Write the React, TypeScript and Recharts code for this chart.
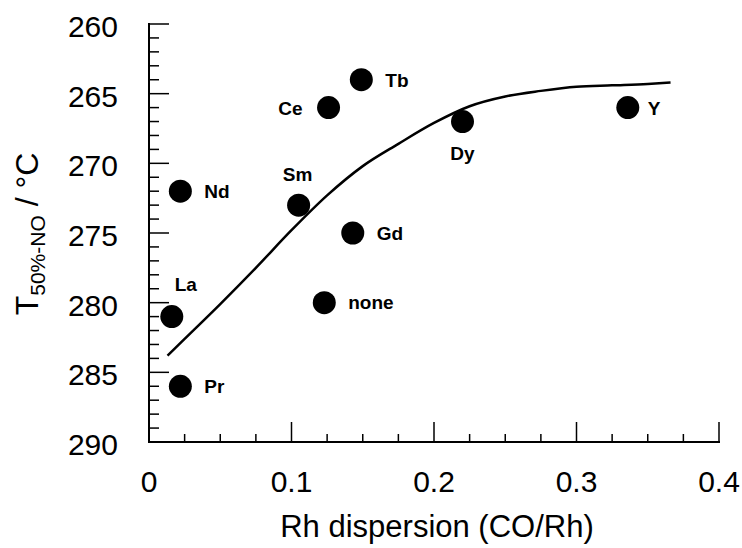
import { ComposedChart, Line, Scatter, XAxis, YAxis } from 'recharts'

// measured samples: promoter element, Rh dispersion, T50%-NO
const SAMPLES = ['La', 'Pr', 'Nd', 'Sm', 'none', 'Ce', 'Gd', 'Tb', 'Dy', 'Y']
const DISPERSION = [0.016, 0.022, 0.022, 0.105, 0.123, 0.126, 0.143, 0.149, 0.22, 0.336]
const T50 = [281, 286, 272, 273, 280, 266, 275, 264, 267, 266]

// fitted trend curve
const FIT_X = [0.013, 0.025, 0.05, 0.075, 0.1, 0.125, 0.15, 0.175, 0.2, 0.225, 0.25, 0.275, 0.3, 0.325, 0.35, 0.366]
const FIT_T = [283.8, 282.6, 280.1, 277.5, 274.8, 272.3, 270.2, 268.6, 267.1, 265.9, 265.2, 264.8, 264.5, 264.4, 264.3, 264.2]

const X_TICKS = [0, 0.025, 0.05, 0.075, 0.1, 0.125, 0.15, 0.175, 0.2, 0.225, 0.25, 0.275, 0.3, 0.325, 0.35, 0.375, 0.4]
const X_LABELS = ['0', '0.1', '0.2', '0.3', '0.4']
const Y_TICKS = [
  260, 261, 262, 263, 264, 265, 266, 267, 268, 269, 270, 271, 272, 273, 274, 275,
  276, 277, 278, 279, 280, 281, 282, 283, 284, 285, 286, 287, 288, 289, 290,
]
const Y_LABELS = [260, 265, 270, 275, 280, 285, 290]

// where each sample name sits relative to its dot
const LABEL_SIDE: Record<string, string> = {
  La: 'upright', Pr: 'right', Nd: 'right', Sm: 'above', none: 'right',
  Ce: 'left', Gd: 'right', Tb: 'right', Dy: 'below', Y: 'right',
}

const FONT = '"Liberation Sans", Arial, sans-serif'
const AXIS_LINE = { stroke: '#000', strokeWidth: 2, strokeLinecap: 'square' as const }

const points = DISPERSION.map((x, i) => ({ x, t: T50[i], name: SAMPLES[i] }))
const fit = FIT_X.map((x, i) => ({ x, t: FIT_T[i] }))

const fmtX = (v: number) => (v === 0 ? '0' : v.toFixed(1))

const XTick = (props: any) => {
  const { x, y, payload } = props
  const label = fmtX(payload.value)
  const major = X_LABELS.includes(label) && Math.abs(payload.value * 10 - Math.round(payload.value * 10)) < 1e-6
  return (
    <g>
      <line x1={x} x2={x} y1={y} y2={y - (major ? 20 : 8)} stroke="#000" strokeWidth={1.5} />
      {major && (
        <text x={x} y={y + 50} textAnchor="middle" fontSize={30} fontFamily={FONT} fill="#000">
          {label}
        </text>
      )}
    </g>
  )
}

const YTick = (props: any) => {
  const { x, y, payload } = props
  const major = Y_LABELS.includes(payload.value)
  return (
    <g>
      <line x1={x} x2={x + (major ? 20 : 10)} y1={y} y2={y} stroke="#000" strokeWidth={1.5} />
      {major && (
        <text x={x - 31} y={y + 13} textAnchor="end" fontSize={30} fontFamily={FONT} fill="#000">
          {payload.value}
        </text>
      )}
    </g>
  )
}

const Dot = (props: any) => {
  const { cx, cy, payload } = props
  const side = LABEL_SIDE[payload.name]
  let tx = cx + 24
  let ty = cy + 7
  let anchor: 'start' | 'middle' | 'end' = 'start'
  if (side === 'left') { tx = cx - 26; anchor = 'end' }
  if (side === 'above') { tx = cx - 1; ty = cy - 24; anchor = 'middle' }
  if (side === 'upright') { tx = cx + 14; ty = cy - 26; anchor = 'middle' }
  if (side === 'below') { tx = cx; ty = cy + 38; anchor = 'middle' }
  if (payload.name === 'none') ty = cy + 6
  if (payload.name === 'Y') tx = cx + 20
  return (
    <g>
      <circle cx={cx} cy={cy} r={11.5} fill="#000" />
      <text x={tx} y={ty} textAnchor={anchor} fontSize={19} fontWeight="bold" fontFamily={FONT} fill="#000">
        {payload.name}
      </text>
    </g>
  )
}

const YLabel = (props: any) => {
  const { viewBox } = props
  const cx = 38
  const cy = viewBox.y + viewBox.height / 2 + 1
  return (
    <text transform={`rotate(-90, ${cx}, ${cy})`} x={cx} y={cy} textAnchor="middle" fontFamily={FONT} fontSize={32} fill="#000">
      <tspan>T</tspan>
      <tspan fontSize={21} dy={7}>50%-NO</tspan>
      <tspan dy={-7}> / °C</tspan>
    </text>
  )
}

const XLabel = (props: any) => {
  const { viewBox } = props
  return (
    <text x={viewBox.x + viewBox.width / 2 + 3} y={viewBox.y + 95} textAnchor="middle" fontFamily={FONT} fontSize={31} fill="#000">
      Rh dispersion (CO/Rh)
    </text>
  )
}

export default function App() {
  return (
    <div style={{ position: 'absolute', left: 0, top: 0, background: '#fff' }}>
      <ComposedChart width={742} height={548} margin={{ top: 24, right: 23, bottom: 0, left: 0 }}>
        <XAxis
          dataKey="x"
          type="number"
          domain={[0, 0.4]}
          ticks={X_TICKS}
          interval={0}
          tick={XTick}
          tickLine={false}
          tickSize={0}
          tickMargin={0}
          axisLine={AXIS_LINE}
          height={106}
          label={XLabel}
        />
        <XAxis xAxisId="top" orientation="top" type="number" domain={[0, 0.4]} tick={false} tickLine={false} axisLine={AXIS_LINE} height={0} />
        <YAxis
          type="number"
          reversed
          domain={[260, 290]}
          ticks={Y_TICKS}
          interval={0}
          tick={YTick}
          tickLine={false}
          tickSize={0}
          tickMargin={0}
          axisLine={AXIS_LINE}
          width={149}
          label={YLabel}
        />
        <YAxis yAxisId="right" orientation="right" type="number" domain={[260, 290]} tick={false} tickLine={false} axisLine={AXIS_LINE} width={0} />
        <Line data={fit} dataKey="t" type="monotone" stroke="#000" strokeWidth={2.5} dot={false} activeDot={false} isAnimationActive={false} />
        <Scatter data={points} dataKey="t" shape={Dot} isAnimationActive={false} />
      </ComposedChart>
    </div>
  )
}
